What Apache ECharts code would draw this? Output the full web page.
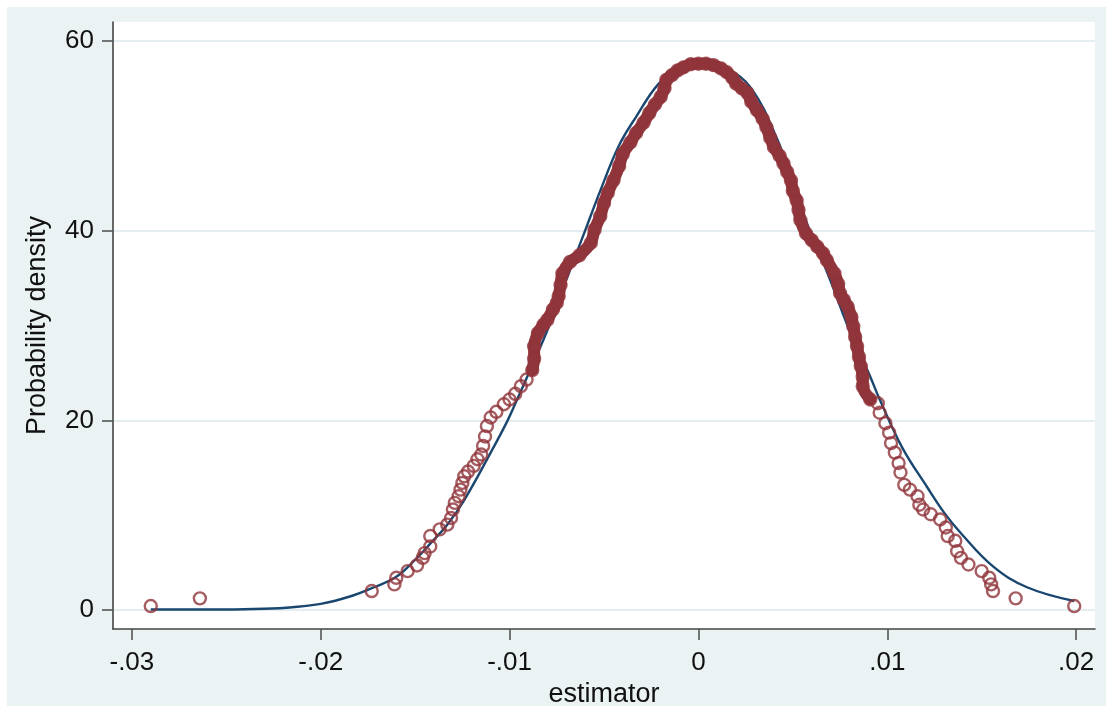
<!DOCTYPE html>
<html>
<head>
<meta charset="utf-8">
<script src="https://cdn.jsdelivr.net/npm/echarts@6/dist/echarts.min.js"></script>
<style>
  html, body { margin: 0; padding: 0; background: #ffffff; }
  #chart { position: absolute; left: 7px; top: 7px; width: 1099px; height: 699px; }
</style>
</head>
<body>
<div id="chart"></div>
<script>
// normal density curve
const normalX = [-0.0290, -0.0270, -0.0250, -0.0230, -0.0215, -0.0200, -0.0185, -0.0173, -0.0160, -0.0150,
  -0.0142, -0.0133, -0.0124, -0.0110, -0.0101, -0.0096, -0.0088, -0.0080, -0.0070, -0.0060,
  -0.0052, -0.0042, -0.0033, -0.0021, -0.0010, 0.0003, 0.0015, 0.0028, 0.0042, 0.0050,
  0.0058, 0.0069, 0.0080, 0.0091, 0.0096, 0.0108, 0.0121, 0.0130, 0.0139, 0.0156, 0.0174, 0.0199]
const normalY = [0.05, 0.05, 0.05, 0.13, 0.3, 0.65, 1.4, 2.3, 3.5, 5.3,
  7.0, 9.0, 11.6, 16.6, 20.0, 22.2, 25.8, 29.5, 34.8, 40.0,
  44.2, 49.0, 52.0, 55.5, 57.1, 57.7, 57.1, 55.0, 49.5, 45.0,
  40.5, 35.2, 29.5, 24.6, 22.2, 17.1, 13.0, 10.3, 8.1, 4.6, 2.4, 0.95]

// kernel density evaluated at each estimate (circles)
const kdX = [-0.0290, -0.0264, -0.0173, -0.0161, -0.0160, -0.0154, -0.0149, -0.0146, -0.0145, -0.0142,
  -0.0142, -0.0137, -0.0133, -0.0131, -0.0130, -0.0129, -0.0127, -0.0126, -0.0125, -0.0124,
  -0.0122, -0.0119, -0.0117, -0.0115, -0.0114, -0.0113, -0.0112, -0.0110, -0.0107, -0.0103,
  -0.0100, -0.0097, -0.0094, -0.0091, -0.0088, -0.0087, -0.0087, -0.0085, -0.0082, -0.0080,
  -0.0077, -0.0075, -0.0074, -0.0073, -0.0072, -0.0068, -0.0063, -0.0057, -0.0055, -0.0052,
  -0.0050, -0.0048, -0.0045, -0.0042, -0.0040, -0.0036, -0.0033, -0.0029, -0.0026, -0.0023,
  -0.0020, -0.0018, -0.0017, -0.0014, -0.0011, -0.0008, -0.0004, 0.0000, 0.0004, 0.0008,
  0.0012, 0.0015, 0.0018, 0.0020, 0.0023, 0.0026, 0.0028, 0.0031, 0.0034, 0.0036,
  0.0038, 0.0040, 0.0043, 0.0045, 0.0047, 0.0049, 0.0050, 0.0052, 0.0053, 0.0054,
  0.0057, 0.0060, 0.0063, 0.0066, 0.0068, 0.0072, 0.0074, 0.0075, 0.0077, 0.0079,
  0.0081, 0.0082, 0.0083, 0.0084, 0.0085, 0.0086, 0.0087, 0.0087, 0.0091, 0.0095,
  0.0096, 0.0099, 0.0101, 0.0102, 0.0104, 0.0106, 0.0107, 0.0109, 0.0112, 0.0116,
  0.0117, 0.0119, 0.0123, 0.0128, 0.0131, 0.0132, 0.0136, 0.0137, 0.0139, 0.0143,
  0.0150, 0.0154, 0.0155, 0.0156, 0.0168, 0.0199]
const kdY = [0.42, 1.23, 2.0, 2.7, 3.4, 4.1, 4.7, 5.5, 6.0, 6.7,
  7.8, 8.5, 9.0, 9.7, 10.6, 11.3, 12.0, 12.7, 13.4, 14.1,
  14.6, 15.2, 15.9, 16.4, 17.3, 18.3, 19.4, 20.3, 20.9, 21.7,
  22.2, 22.8, 23.6, 24.3, 25.3, 26.5, 27.8, 29.2, 30.1, 30.6,
  31.7, 32.4, 33.1, 34.3, 35.5, 36.7, 37.4, 38.7, 40.1, 41.5,
  42.9, 44.0, 45.3, 46.8, 48.1, 49.3, 50.3, 51.4, 52.4, 53.3,
  54.1, 55.0, 55.9, 56.4, 56.9, 57.2, 57.55, 57.6, 57.6, 57.45,
  57.1, 56.7, 56.1, 55.5, 55.0, 54.5, 53.6, 52.7, 51.8, 50.9,
  49.8, 48.8, 47.9, 47.1, 46.2, 45.3, 44.2, 43.2, 42.2, 41.1,
  39.7, 39.0, 38.3, 37.6, 36.9, 35.5, 34.4, 33.4, 32.7, 32.0,
  30.9, 29.9, 28.8, 27.8, 26.7, 25.7, 24.6, 23.6, 22.2, 21.8,
  20.8, 19.7, 18.7, 17.6, 16.6, 15.5, 14.5, 13.2, 12.7, 12.0,
  11.1, 10.6, 10.1, 9.55, 8.7, 7.8, 7.3, 6.2, 5.5, 4.8,
  4.1, 3.4, 2.7, 2.0, 1.23, 0.42]

const xTicks = [-0.03, -0.02, -0.01, 0, 0.01, 0.02]
const yTicks = [0, 20, 40, 60]

const red = '#90353b'
const navy = '#1a476f'
const font = 'Liberation Sans, Arial, sans-serif'

function fmtX(v) {
  if (Math.abs(v) < 1e-9) return '0'
  return (v < 0 ? '-' : '') + Math.abs(v).toFixed(2).replace(/^0/, '')
}

const kdPoints = kdX.map((x, i) => [x, kdY[i]])
// where the circles pile into a solid band
const bandPoints = kdPoints.filter(p => p[0] >= -0.0088 && p[0] <= 0.0091)

const chart = echarts.init(document.getElementById('chart'))
chart.setOption({
  backgroundColor: '#eaf2f3',
  animation: false,
  grid: {
    left: 106, top: 15, width: 982, height: 607,
    outerBoundsMode: 'none',
    containLabel: false,
    show: true, backgroundColor: '#ffffff', borderWidth: 0
  },
  xAxis: {
    type: 'value',
    min: -0.031,
    max: 0.021,
    name: 'estimator',
    nameLocation: 'middle',
    nameGap: 50,
    nameTextStyle: { fontFamily: font, fontSize: 27, color: '#111' },
    axisLine: { show: true, onZero: false, lineStyle: { color: '#444', width: 1.6 } },
    axisTick: { show: true, customValues: xTicks, length: 11, lineStyle: { color: '#555', width: 1.6 } },
    axisLabel: { customValues: xTicks, formatter: fmtX, margin: 21, fontFamily: font, fontSize: 26, color: '#111' },
    splitLine: { show: false }
  },
  yAxis: {
    type: 'value',
    min: -2,
    max: 62,
    name: 'Probability density',
    nameLocation: 'middle',
    nameGap: 62,
    nameRotate: 90,
    nameTextStyle: { fontFamily: font, fontSize: 27, color: '#111' },
    axisLine: { show: true, onZero: false, lineStyle: { color: '#444', width: 1.6 } },
    axisTick: { show: true, customValues: yTicks, length: 11, lineStyle: { color: '#555', width: 1.6 } },
    axisLabel: { customValues: yTicks, margin: 19, fontFamily: font, fontSize: 26, color: '#111' },
    splitLine: { show: true, lineStyle: { color: '#e4eef0', width: 2 } }
  },
  series: [
    {
      type: 'line',
      data: normalX.map((x, i) => [x, normalY[i]]),
      smooth: 0.4,
      symbol: 'none',
      lineStyle: { color: navy, width: 2.4 },
      z: 2
    },
    {
      type: 'line',
      data: bandPoints,
      symbol: 'none',
      smooth: 0.3,
      lineStyle: { color: red, width: 12, cap: 'round', join: 'round' },
      z: 3
    },
    {
      type: 'scatter',
      data: kdPoints,
      symbol: 'circle',
      symbolSize: 12,
      itemStyle: { color: 'rgba(255,255,255,0)', borderColor: red, borderWidth: 2.4 },
      z: 4
    }
  ]
})
</script>
</body>
</html>
